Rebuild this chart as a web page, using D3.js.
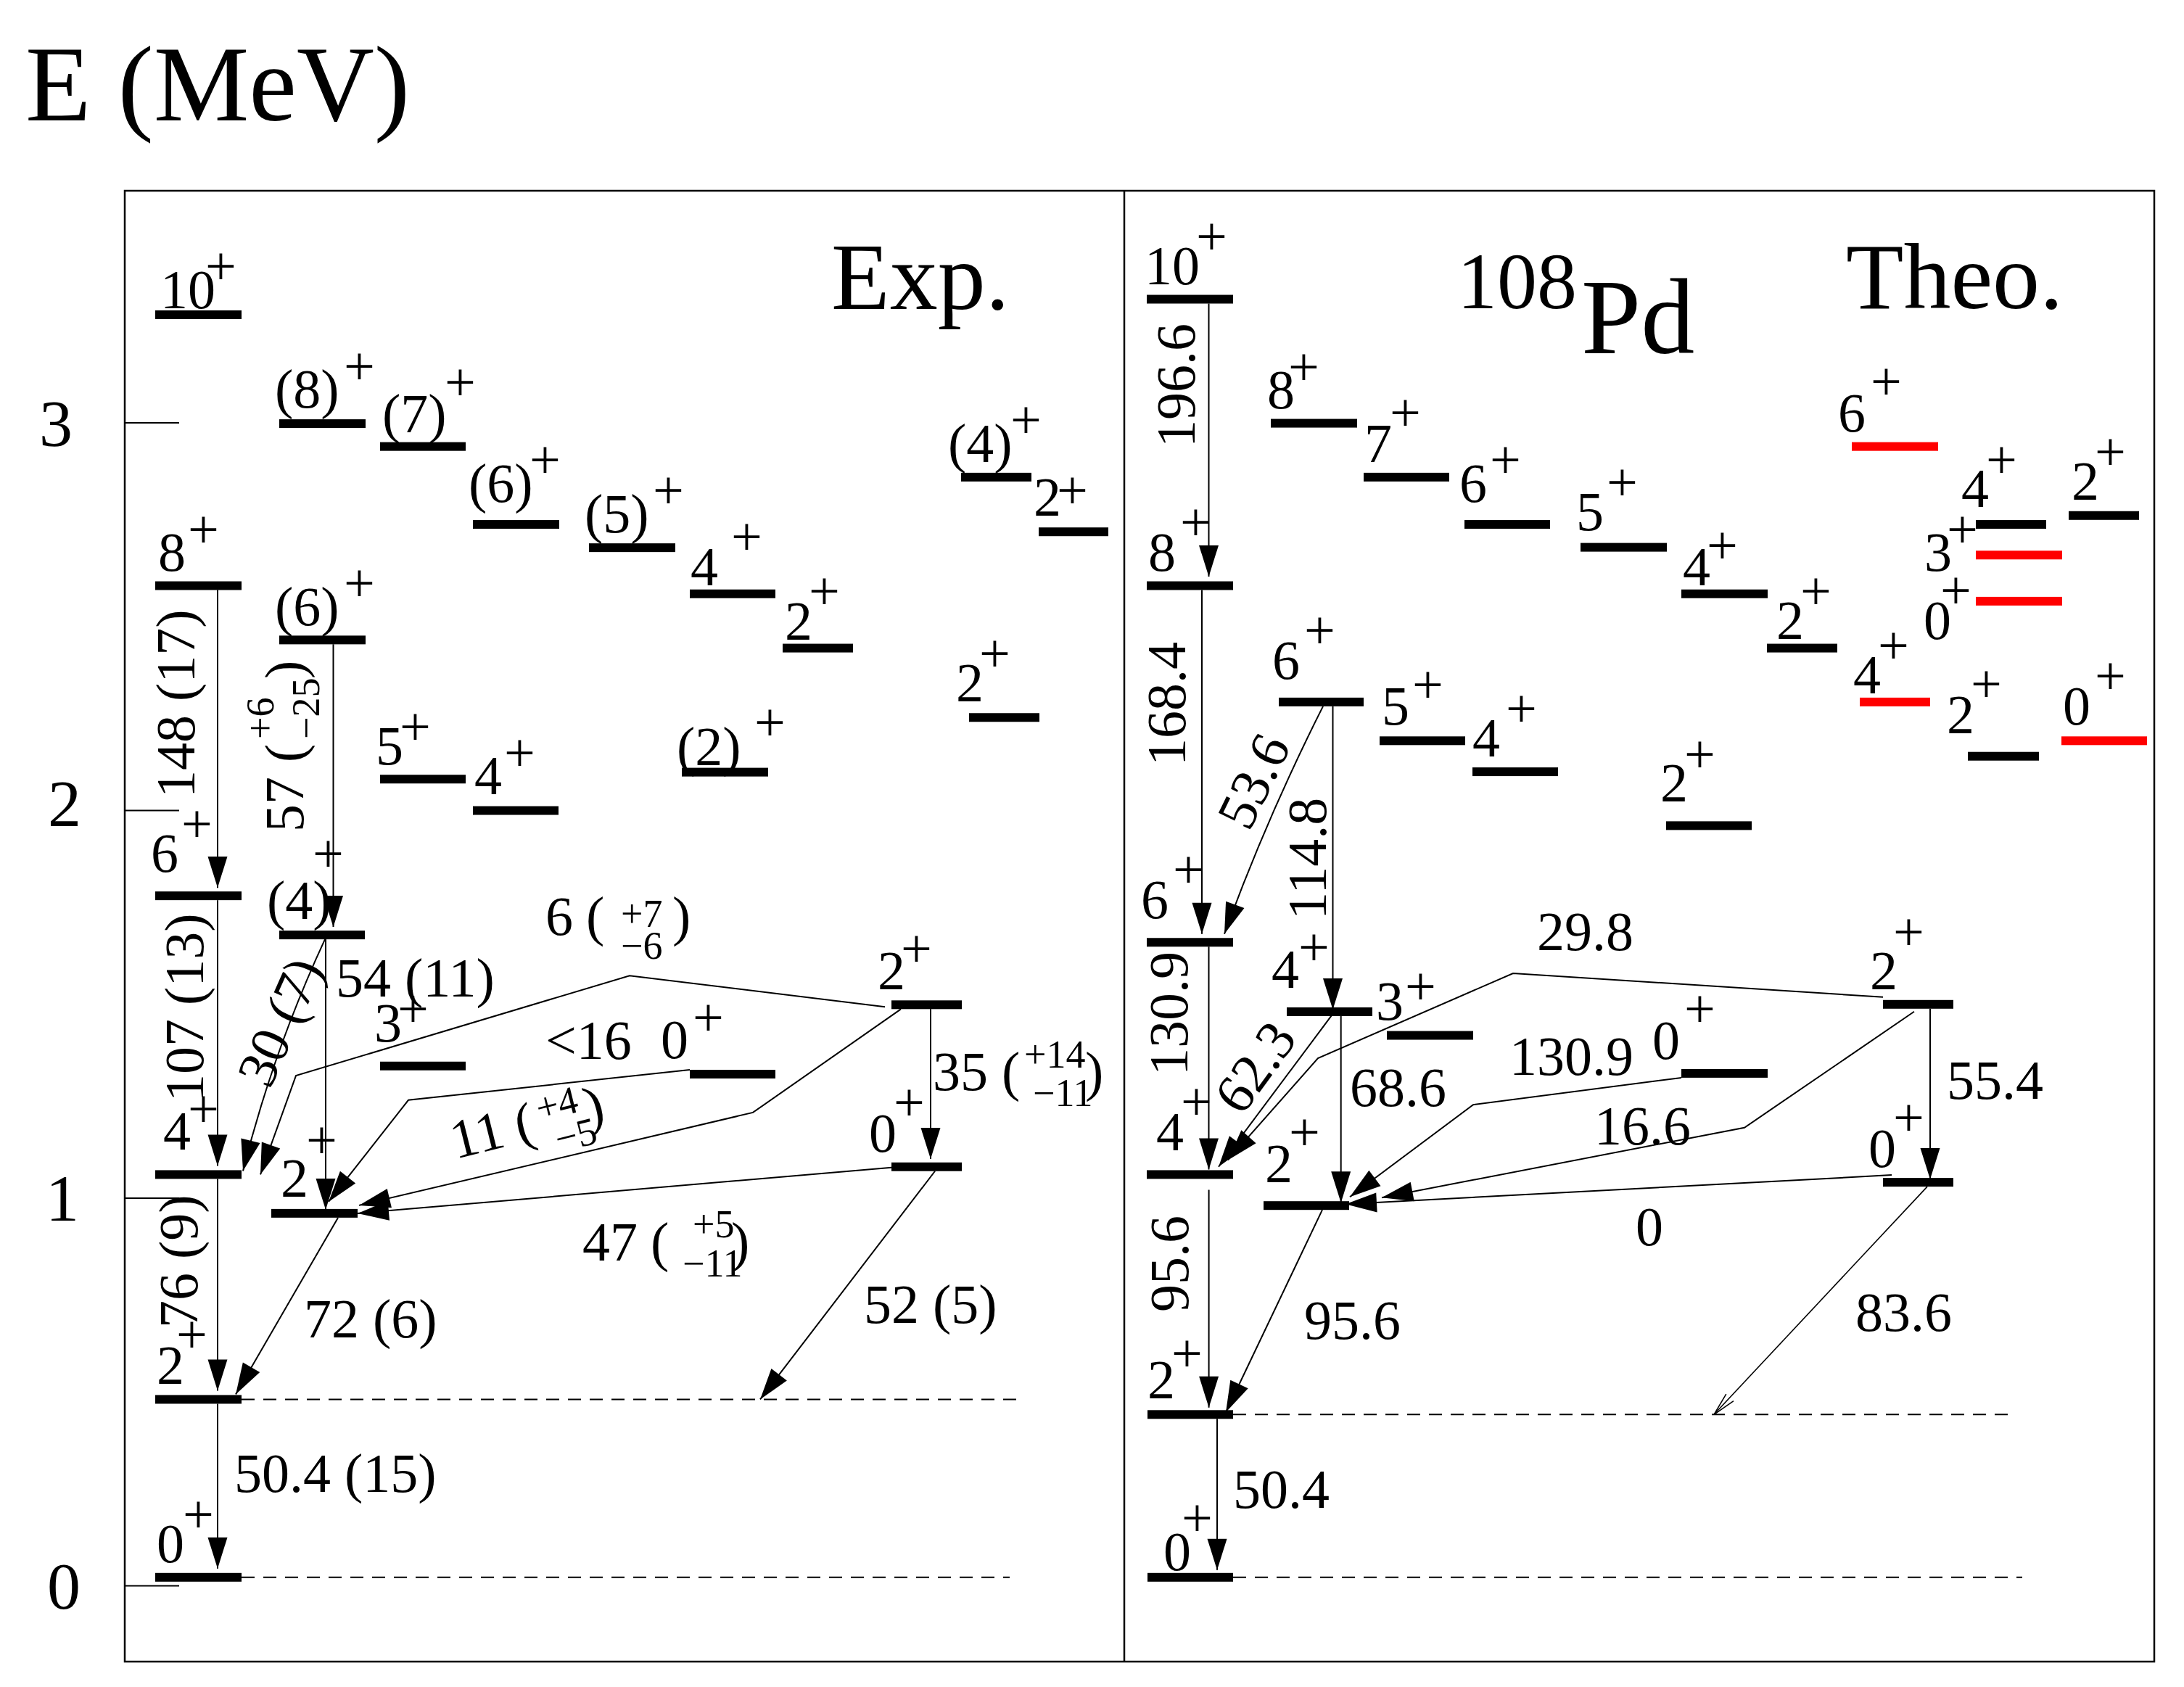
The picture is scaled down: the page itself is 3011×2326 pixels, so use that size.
<!DOCTYPE html>
<html>
<head>
<meta charset="utf-8">
<script src="https://cdn.jsdelivr.net/npm/d3@7/dist/d3.min.js"></script>
<style>
html,body{margin:0;padding:0;background:#fff;}
svg{display:block;}
text{font-family:"Liberation Serif","Times New Roman",Times,serif;fill:#000;}
</style>
</head>
<body>
<svg id="chart" width="3011" height="2326"></svg>
<script>
// ======================= DATA =======================
const energyTicks = [0, 1, 2, 3];
const tickLabels = ["0", "1", "2", "3"];

// Experimental levels (energy in MeV)
const expLevelIds = ["e10","e8a","e7","e6a","e5a","e4a","e2a","e4b","e2b","e2c","e2d","e8","e6b","e5b","e4c","e6","e4d","e3","e0b","e2e","e0c","e4","e2g","e2","e0"];
const expSpins    = ["10","(8)","(7)","(6)","(5)","4","2","(4)","2","2","(2)","8","(6)","5","4","6","(4)","3","0","2","0","4","2","2","0"];
const expEnergies = [3.278,2.997,2.938,2.737,2.677,2.558,2.418,2.859,2.718,2.239,2.098,2.579,2.439,2.080,1.999,1.779,1.678,1.340,1.319,1.498,1.080,1.060,0.960,0.480,0.021];

// Theoretical levels
const theoLevelIds = ["t10","t8b","t7","t6b","t5b","t4b","t2b","t8","t6g","t5","t4c","t2c","t6r","t4k","t3r","t0r","t2k","t4r","t2m","t0r2","t6","t4g","t3","t0b","t2e","t0c","t4","t2g","t2","t0"];
const theoSpins    = ["10","8","7","6","5","4","2","8","6","5","4","2","6","4","3","0","2","4","2","0","6","4","3","0","2","0","4","2","2","0"];
const theoEnergies = [3.318,2.998,2.859,2.737,2.678,2.558,2.418,2.579,2.279,2.179,2.099,1.960,2.938,2.737,2.658,2.539,2.760,2.279,2.139,2.179,1.659,1.480,1.419,1.321,1.499,1.040,1.060,0.980,0.441,0.021];
const theoRedLevels = ["t6r","t3r","t0r","t4r","t0r2"];

// Experimental transitions: B(E2) values with errors
const expTransFrom   = ["e8","e6","e4","e2","e6b","e4d","e2e","e0b","e2e","e0c","e4d","e2e","e2g","e0c"];
const expTransTo     = ["e6","e4","e2","e0","e4d","e4","e4","e2g","e2g","e2g","e2g","e0c","e2","e2"];
const expTransValues = ["148","107","76","50.4","57","30","6","<16","11","47","54","35","72","52"];
const expTransErrors = ["17","13","9","15",["+6","\u221225"],"7",["+7","\u22126"],null,["+4","\u22125"],["+5","\u221211"],"11",["+14","\u221211"],"6","5"];

// Theoretical transitions
const theoTransFrom   = ["t10","t8","t6","t4","t2","t6g","t6g","t4g","t2e","t4g","t0b","t2e","t0c","t2e","t2g","t0c"];
const theoTransTo     = ["t8","t6","t4","t2","t0","t6","t4g","t4","t4","t2g","t2g","t2g","t2g","t0c","t2","t2"];
const theoTransValues = ["196.6","168.4","130.9","95.6","50.4","53.6","114.8","62.3","29.8","68.6","130.9","16.6","0","55.4","95.6","83.6"];

// ======================= LAYOUT (pixels, not data) =======================
const W = 3011, H = 2326;
const FRAME = {left:172, top:263, right:2970, bottom:2291, divider:1550};
const FONT_LVL = 76, FONT_SCRIPT = 54, FONT_TICK = 92;
const TICK_LABEL_CX = [88, 86, 89, 77];
const TICK_LABEL_DY = [31, 31, 21, 32];
const BAR_H = 12;
const RED = "#ff0000";

// [x0, x1, textX, textDy, plusX, plusDy]
const LEVEL_LAYOUT = {
 e10:[214,333,221,-9,283,-42], e8a:[385,504,379,-22,474,-54], e7:[524,642,527,-20,613,-64],
 e6a:[652,771,646,-31,730,-64], e5a:[812,931,806,-21.5,900,-54], e4a:[951,1069,952,-12,1008,-54],
 e2a:[1079,1176,1082,-11.5,1115,-53.5], e4b:[1325,1422,1307,-21,1393,-53.5], e2b:[1432,1528,1425,-22,1457,-32],
 e2c:[1336,1433,1318,-22,1350,-63.6], e2d:[940,1059,933,-10,1040,-44], e8:[214,333,218,-21,259,-53],
 e6b:[385,504,379,-20,474,-53], e5b:[524,642,518,-20,551,-47], e4c:[652,770,654,-23,695,-55],
 e6:[214,333,208,-33,250,-74], e4d:[385,503,368,-22,431,-87], e3:[524,642,516,-34,548,-54],
 e0b:[951,1069,911,-21.7,955,-53], e2e:[1229,1326,1210,-21.7,1242,-52.3], e0c:[1229,1326,1198,-20.7,1232,-64],
 e4:[214,333,225,-34,259,-65], e2g:[374,493,387,-23,422,-76], e2:[214,333,216,-21,243,-64], e0:[214,333,216,-21,252,-61.5],
 t10:[1581,1700,1578,-20.5,1649,-62], t8b:[1752,1871,1747,-20.5,1776,-52.5], t7:[1880,1998,1881,-20.5,1916,-64],
 t6b:[2019,2137,2012,-31,2054,-64], t5b:[2179,2298,2173,-23.5,2215,-64.5], t4b:[2318,2437,2320,-12,2353,-42],
 t2b:[2436,2533,2449,-12.5,2482,-54], t8:[1581,1700,1583,-21,1627,-62.6], t6g:[1763,1880,1754,-32,1798,-74],
 t5:[1902,2020,1905,-22.4,1947,-52.7], t4c:[2030,2148,2030,-21,2076,-62], t2c:[2297,2415,2289,-33.5,2322,-73.5],
 t6r:[2553,2672,2534,-21,2579,-64.6], t4k:[2724,2821,2704,-23.6,2738,-64], t3r:[2724,2843,2653,21.3,2684,-10.4],
 t0r:[2724,2843,2652,52.4,2675,10.5], t2k:[2852,2949,2856,-22,2888,-63], t4r:[2564,2661,2555,-12,2589,-53],
 t2m:[2713,2811,2684,-32,2717,-75], t0r2:[2842,2960,2844,-22.4,2888,-64.4], t6:[1581,1700,1573,-33,1617,-75],
 t4g:[1774,1892,1753,-33,1790,-63.5], t3:[1912,2031,1897,-21.4,1937,-42.4], t0b:[2318,2437,2278,-20.3,2322,-64.3],
 t2e:[2596,2693,2578,-20.7,2610,-75], t0c:[2596,2693,2576,-21,2610,-64], t4:[1581,1700,1594,-33.7,1628,-75.7],
 t2g:[1742,1860,1744,-32.4,1777,-76.4], t2:[1582,1700,1582,-22.5,1615,-59.5], t0:[1582,1700,1604,-10,1629,-57]
};
// dashed extension lines: level id -> right end x
const DASHED = {e2:1401, e0:1392, t2:2778, t0:2788};

// transition routing: sx/ex start/end x, d0/d1 pixel offsets from level centre, via [x, energy]
const EXP_TRANS_LAYOUT = [
 {sx:300, ex:300, d0:6, d1:-11, lab:{x:268,y:1100,rot:-90}},
 {sx:300, ex:300, d0:6, d1:-12, lab:{x:280,y:1519,rot:-90}},
 {sx:300, ex:300, d0:6, d1:-12, lab:{x:272,y:1831,rot:-90}},
 {sx:300, ex:300, d0:6, d1:-12, lab:{x:323,y:2057,rot:0}},
 {sx:459.5, ex:459.5, d0:6, d1:-11, lab:{x:418,y:1147,rot:-90,paren:96,sup:[128,-41],sub:[128,22],close:211}},
 {sx:448, ex:335, d0:6, d1:-5, bow:8, lab:{x:372,y:1503,rot:-66}},
 {sx:1220, ex:359, d0:3, d1:0, via:[[868,1.573],[408,1.315]], lab:{x:752,y:1289,rot:0,paren:56,sup:[104,-11],sub:[104,33],close:175}},
 {sx:951, ex:453, d0:-6, d1:-16, via:[[563,1.252]], lab:{x:752,y:1460,rot:0}},
 {sx:1242, ex:495, d0:6, d1:-11, via:[[1038,1.220]], lab:{x:628,y:1598,rot:-14,paren:91,sup:[125,-22],sub:[140,26],close:190}},
 {sx:1229, ex:493, d0:1, d1:0, lab:{x:803,y:1738,rot:0,paren:94,sup:[152,-32],sub:[138,22],close:205}},
 {sx:449, ex:449, d0:6, d1:-5, lab:{x:463,y:1374,rot:0}},
 {sx:1283, ex:1283, d0:6, d1:-10.7, lab:{x:1286,y:1503,rot:0,paren:95,sup:[126,-31],sub:[138,22],close:210}},
 {sx:466, ex:325, d0:6, d1:-7, lab:{x:419,y:1844,rot:0}},
 {sx:1289, ex:1048, d0:6, d1:0, lab:{x:1191,y:1824,rot:0}}
];
const THEO_TRANS_LAYOUT = [
 {sx:1666.5, ex:1666.5, d0:6, d1:-12.6, lab:{x:1647,y:617,rot:-90}},
 {sx:1657, ex:1657, d0:6, d1:-11.5, lab:{x:1634,y:1056,rot:-90}},
 {sx:1666.5, ex:1666.5, d0:6, d1:-7, lab:{x:1637,y:1483,rot:-90}},
 {sx:1666.6, ex:1666.6, d0:21, d1:-9.5, lab:{x:1638,y:1809,rot:-90}},
 {sx:1678, ex:1678, d0:6, d1:-10, lab:{x:1700,y:2079,rot:0}},
 {sx:1824, ex:1688, d0:6, d1:-11.5, bow:5, lab:{x:1722,y:1148,rot:-64}},
 {sx:1837.5, ex:1837.5, d0:6, d1:-3, lab:{x:1828,y:1268,rot:-90}},
 {sx:1836, ex:1680, d0:5, d1:-10.7, lab:{x:1712,y:1540,rot:-54}},
 {sx:2596, ex:1693, d0:-10, d1:-20, via:[[2086,1.579],[1817,1.360]], lab:{x:2119,y:1310,rot:0}},
 {sx:1848.7, ex:1848.7, d0:6, d1:-4, lab:{x:1861,y:1525,rot:0}},
 {sx:2318, ex:1861, d0:6, d1:-12, via:[[2031,1.240]], lab:{x:2081,y:1482,rot:0}},
 {sx:2639, ex:1905, d0:10, d1:-11, via:[[2405,1.181]], lab:{x:2198,y:1578,rot:0}},
 {sx:2608, ex:1855, d0:-10, d1:-2, lab:{x:2255,y:1717,rot:0}},
 {sx:2661, ex:2661, d0:6, d1:-4, lab:{x:2684,y:1515,rot:0}},
 {sx:1823, ex:1690, d0:6, d1:-3, lab:{x:1798,y:1846,rot:0}},
 {sx:2657, ex:2363, d0:6, d1:0, open:true, lab:{x:2558,y:1835,rot:0}}
];

// ======================= SCALES =======================
const y = d3.scaleLinear().domain([0, 3]).range([2186, 582.5]);
const x = d3.scaleLinear().domain([0, W]).range([0, W]);

const svg = d3.select("#chart");
svg.append("rect").attr("width", W).attr("height", H).attr("fill", "#fff");

// frame
svg.append("rect").attr("x", FRAME.left).attr("y", FRAME.top)
  .attr("width", FRAME.right - FRAME.left).attr("height", FRAME.bottom - FRAME.top)
  .attr("fill", "none").attr("stroke", "#000").attr("stroke-width", 2.5);
svg.append("line").attr("x1", FRAME.divider).attr("x2", FRAME.divider)
  .attr("y1", FRAME.top).attr("y2", FRAME.bottom).attr("stroke", "#000").attr("stroke-width", 2.5);

// axis
const axis = d3.axisLeft(y).tickValues(energyTicks).tickSize(-75).tickPadding(70)
  .tickFormat((d, i) => tickLabels[i]);
const ag = svg.append("g").attr("transform", `translate(${FRAME.left},0)`).call(axis);
ag.select(".domain").remove();
ag.selectAll(".tick line").attr("stroke", "#000").attr("stroke-width", 2);
ag.selectAll(".tick text").attr("font-size", FONT_TICK).attr("font-family", "Liberation Serif")
  .attr("fill", "#000").attr("text-anchor", "middle")
  .attr("x", (d, i) => TICK_LABEL_CX[i] - FRAME.left)
  .attr("y", (d, i) => TICK_LABEL_DY[i]).attr("dy", 0);

// titles
function txt(t, xx, yy, size, anchor) {
  return svg.append("text").attr("x", xx).attr("y", yy).attr("font-size", size)
    .attr("text-anchor", anchor || "start").text(t);
}
txt("E (MeV)", 35, 166, 148);
txt("Exp.", 1146, 426, 132);
txt("108", 2009, 425, 110);
txt("Pd", 2180, 487, 148);
txt("Theo.", 2545, 425, 130);

// build level tables
const levels = {};
expLevelIds.forEach((id, i) => levels[id] = {id, spin: expSpins[i], E: expEnergies[i], red: false});
theoLevelIds.forEach((id, i) => levels[id] = {id, spin: theoSpins[i], E: theoEnergies[i], red: theoRedLevels.includes(id)});
const allLevels = Object.values(levels);

// dashed extension lines
Object.keys(DASHED).forEach(id => {
  const L = levels[id], lay = LEVEL_LAYOUT[id];
  svg.append("line").attr("x1", x(lay[1])).attr("x2", x(DASHED[id]))
    .attr("y1", y(L.E)).attr("y2", y(L.E))
    .attr("stroke", "#000").attr("stroke-width", 2).attr("stroke-dasharray", "18,12");
});

// transitions
const tg = svg.append("g");
function arrowHead(tip, from, open) {
  const dx = tip[0] - from[0], dy = tip[1] - from[1];
  const len = Math.hypot(dx, dy), ux = dx / len, uy = dy / len;
  const hl = open ? 32 : 43, hw = open ? 7 : 13.5;
  const bx = tip[0] - ux * hl, by = tip[1] - uy * hl;
  const p1 = [bx - uy * hw, by + ux * hw], p2 = [bx + uy * hw, by - ux * hw];
  if (open) {
    tg.append("path").attr("d", `M${p1}L${tip}L${p2}`).attr("fill", "none")
      .attr("stroke", "#000").attr("stroke-width", 1.6);
  } else {
    tg.append("path").attr("d", `M${p1}L${tip}L${p2}Z`).attr("fill", "#000");
  }
}
function drawLabel(lab, value, err) {
  const g = tg.append("g").attr("transform", `translate(${x(lab.x)},${lab.y}) rotate(${lab.rot || 0})`);
  if (Array.isArray(err)) {
    g.append("text").attr("x", 0).attr("y", 0).attr("font-size", FONT_LVL).text(value);
    g.append("text").attr("x", lab.paren).attr("y", 0).attr("font-size", FONT_LVL).text("(");
    g.append("text").attr("x", lab.sup[0]).attr("y", lab.sup[1]).attr("font-size", FONT_SCRIPT).text(err[0]);
    g.append("text").attr("x", lab.sub[0]).attr("y", lab.sub[1]).attr("font-size", FONT_SCRIPT).text(err[1]);
    g.append("text").attr("x", lab.close).attr("y", 0).attr("font-size", FONT_LVL).text(")");
  } else {
    const t = err ? `${value} (${err})` : value;
    g.append("text").attr("x", 0).attr("y", 0).attr("font-size", FONT_LVL).text(t);
  }
}
function drawTransitions(from, to, values, errs, layout) {
  from.forEach((f, i) => {
    const lay = layout[i], A = levels[f], B = levels[to[i]];
    const p0 = [x(lay.sx), y(A.E) + lay.d0];
    const p1 = [x(lay.ex), y(B.E) + lay.d1];
    const pts = [p0].concat((lay.via || []).map(v => [x(v[0]), y(v[1])])).concat([p1]);
    let d, prev;
    if (lay.bow) {
      const mx = (p0[0] + p1[0]) / 2, my = (p0[1] + p1[1]) / 2;
      const dx = p1[0] - p0[0], dy = p1[1] - p0[1], L = Math.hypot(dx, dy);
      let nx = -dy / L, ny = dx / L;
      if (nx > 0) { nx = -nx; ny = -ny; }
      const c = [mx + nx * 2 * lay.bow, my + ny * 2 * lay.bow];
      d = `M${p0}Q${c} ${p1}`;
      prev = c;
    } else {
      d = d3.line()(pts);
      prev = pts[pts.length - 2];
    }
    tg.append("path").attr("d", d).attr("fill", "none").attr("stroke", "#000")
      .attr("stroke-width", lay.open ? 1.6 : 2);
    arrowHead(p1, prev, lay.open);
    drawLabel(lay.lab, values[i], errs ? errs[i] : null);
  });
}
drawTransitions(expTransFrom, expTransTo, expTransValues, expTransErrors, EXP_TRANS_LAYOUT);
drawTransitions(theoTransFrom, theoTransTo, theoTransValues, null, THEO_TRANS_LAYOUT);

// levels (bars + labels)
const lg = svg.append("g");
lg.selectAll("rect.lvl").data(allLevels).join("rect").attr("class", "lvl")
  .attr("x", d => x(LEVEL_LAYOUT[d.id][0]))
  .attr("width", d => x(LEVEL_LAYOUT[d.id][1]) - x(LEVEL_LAYOUT[d.id][0]))
  .attr("y", d => y(d.E) - BAR_H / 2).attr("height", BAR_H)
  .attr("fill", d => d.red ? RED : "#000");
lg.selectAll("text.spin").data(allLevels).join("text").attr("class", "spin")
  .attr("x", d => x(LEVEL_LAYOUT[d.id][2])).attr("y", d => y(d.E) + LEVEL_LAYOUT[d.id][3])
  .attr("font-size", FONT_LVL).text(d => d.spin);
lg.selectAll("text.par").data(allLevels).join("text").attr("class", "par")
  .attr("x", d => x(LEVEL_LAYOUT[d.id][4])).attr("y", d => y(d.E) + LEVEL_LAYOUT[d.id][5])
  .attr("font-size", FONT_LVL).text("+");
</script>
</body>
</html>
